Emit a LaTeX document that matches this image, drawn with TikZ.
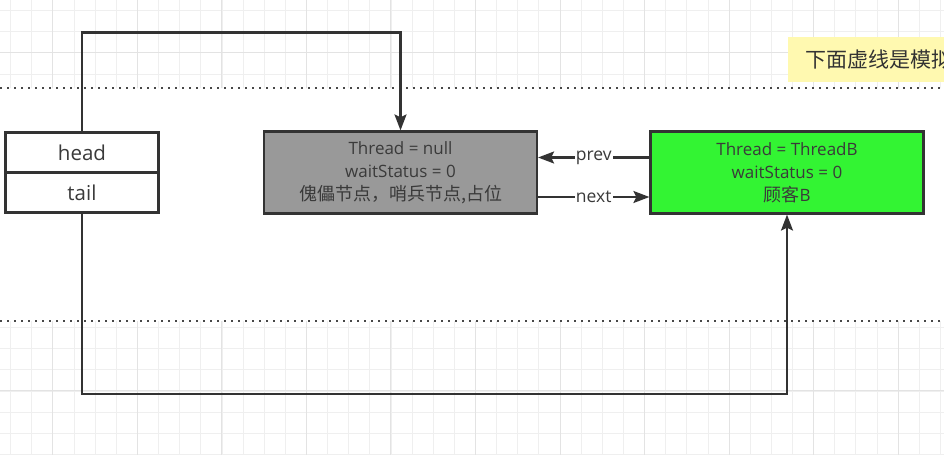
\documentclass[tikz,border=0pt]{standalone}
\usepackage{fontspec}
\setmainfont{Open Sans}
\newfontfamily\cjk{Noto Sans CJK SC}
\usetikzlibrary{arrows.meta}
\definecolor{ink}{HTML}{333333}
\definecolor{txt}{HTML}{3A3A3A}
\definecolor{gbox}{HTML}{999999}
\definecolor{grn}{HTML}{33F433}
\definecolor{note}{HTML}{FFF9B0}
\definecolor{gridminor}{HTML}{EFEFEF}
\definecolor{gridmajor}{HTML}{E3E3E3}
\tikzset{
  conn/.style={draw=ink, line width=2.2pt},
  arr/.style={conn, -{Stealth[length=16pt,width=12pt,inset=3pt]}},
  card/.style={draw=ink, line width=2.2pt, minimum width=273pt, minimum height=82pt,
    align=center, inner sep=0pt, font=\fontsize{17}{23}\selectfont, text=txt},
  cell/.style={draw=ink, line width=2.2pt, minimum width=153pt, minimum height=40pt,
    inner sep=0pt, font=\fontsize{20.5}{24}\selectfont, text=txt, fill=white},
  lbl/.style={fill=white, inner sep=1pt, font=\fontsize{17.5}{20}\selectfont, text=txt},
  sep/.style={draw=ink!90, line width=2pt, dash pattern=on 2pt off 5pt}
}
\begin{document}
\begin{tikzpicture}[x=1pt,y=-1pt]
\useasboundingbox (0,0) rectangle (944,455);
\fill[white] (0,0) rectangle (944,455);
% grid outside the band
\begin{scope}
  \clip (0,0) rectangle (944,88) (0,321) rectangle (944,455);
  \foreach \i in {0,...,44} {
    \pgfmathsetmacro{\gx}{10.7+21.13*\i}
    \draw[gridminor, line width=1pt] (\gx,0) -- (\gx,455);
  }
  \foreach \i in {0,...,21} {
    \pgfmathsetmacro{\gy}{10.7+21.13*\i}
    \draw[gridminor, line width=1pt] (0,\gy) -- (944,\gy);
  }
  \foreach \i in {-1,...,11} {
    \pgfmathsetmacro{\gx}{52.9+84.52*\i}
    \draw[gridmajor, line width=1pt] (\gx,0) -- (\gx,455);
  }
  \foreach \i in {0,...,5} {
    \pgfmathsetmacro{\gy}{52.9+84.52*\i}
    \draw[gridmajor, line width=1pt] (0,\gy) -- (944,\gy);
  }
\end{scope}
% dotted separators
\draw[sep] (0,88) -- (944,88);
\draw[sep] (0,321) -- (944,321);
% note (cut off at the right edge, as in the reference)
\begin{scope}
  \clip (0,0) rectangle (944,455);
  \node[fill=note, anchor=north west, minimum height=45pt, minimum width=170pt,
    inner sep=0pt, text=ink, font=\cjk\fontsize{21}{24}\selectfont, align=left,
    text width=170pt] (note) at (788,37) {\hspace*{17pt}下面虚线是模拟};
\end{scope}
% head / tail
\node[cell] (head) at (82,152.5) {head};
\node[cell] (tail) at (82,192.5) {tail};
% nodes
\node[card, fill=gbox] (dummy) at (400.5,172.5)
  {Thread = null\\waitStatus = 0\\{\cjk\fontsize{18}{23}\selectfont 傀儡节点，哨兵节点,占位}};
\node[card, fill=grn] (nodeB) at (787,172.5)
  {Thread = ThreadB\\waitStatus = 0\\{\cjk\fontsize{18}{23}\selectfont 顾客}B};
% connectors
\coordinate (t1) at (82,32.5);
\coordinate (t2) at (400.5,32.5);
\draw[arr] (head.north) -- (t1) -- (t2) -- (dummy.north);
\coordinate (b1) at (82,394);
\coordinate (b2) at (787,394);
\draw[arr] (tail.south) -- (b1) -- (b2) -- (nodeB.south);
\draw[arr] (nodeB.west |- 0,157.5) -- node[lbl]{prev} (dummy.east |- 0,157.5);
\draw[arr] (dummy.east |- 0,197) -- node[lbl]{next} (nodeB.west |- 0,197);
\end{tikzpicture}
\end{document}
